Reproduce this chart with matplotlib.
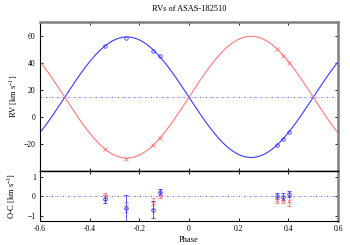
import numpy as np
import matplotlib
matplotlib.use("Agg")
import matplotlib.pyplot as plt

plt.rcParams['font.family'] = ['Liberation Serif', 'DejaVu Serif']
plt.rcParams['mathtext.fontset'] = 'custom'
plt.rcParams['mathtext.rm'] = 'Liberation Serif'

# Orbit parameters
gamma = 14.5
K1 = 44.5   # blue component
K2 = 45.0   # red component

# Observations
phase = [-0.338, -0.255, -0.143, -0.118, 0.355, 0.380, 0.403]
rv_blue = [52.3, 58.4, 48.6, 44.8, -20.7, -16.0, -10.9]
rv_red = [-23.8, -31.0, -21.0, -15.8, 49.9, 45.1, 39.9]
oc_blue = [-0.15, -0.58, -0.68, 0.22, 0.00, -0.02, 0.10]
oc_blue_err = [0.20, 0.67, 0.46, 0.17, 0.15, 0.17, 0.15]
oc_red = [0.00, -0.55, -0.35, 0.05, -0.17, -0.17, -0.25]
oc_red_err = [0.17, 0.28, 0.28, 0.15, 0.15, 0.20, 0.25]

blue = '#3a3aff'
red = '#ff7878'

fig = plt.figure(figsize=(3.5, 2.45), dpi=100)
ax1 = fig.add_axes([0.114, 0.302, 0.852, 0.608])
ax2 = fig.add_axes([0.114, 0.098, 0.852, 0.204])

ph = np.linspace(-0.6, 0.6, 600)
ax1.plot(ph, gamma - K1 * np.sin(2 * np.pi * ph), color=blue, lw=0.8)
ax1.plot(ph, gamma + K2 * np.sin(2 * np.pi * ph), color=red, lw=0.8)
ax1.axhline(gamma, color='#6060ff', lw=0.6, ls=(0, (2, 2, 0.6, 2)))
ax1.plot(phase, rv_blue, 'o', mfc='none', mec=blue, ms=2.5, mew=0.6)
ax1.plot(phase, rv_red, 'x', color=red, ms=3, mew=0.6)
ax1.set_xlim(-0.6, 0.6)
ax1.set_ylim(-40, 70)
ax1.set_yticks([-20, 0, 20, 40, 60])
ax1.set_xticks([-0.6, -0.4, -0.2, 0, 0.2, 0.4, 0.6])
ax1.tick_params(labelbottom=False)
ax1.set_ylabel('RV [km s$^{-1}$]', fontsize=6, labelpad=3)
ax1.set_title('RVs of ASAS-182510', fontsize=6, pad=8)

ax2.axhline(0, color='#6060ff', lw=0.6, ls=(0, (2, 2, 0.6, 2)))
ax2.errorbar(phase, oc_red, yerr=oc_red_err, fmt='x', color=red, ms=3,
             mew=0.6, elinewidth=0.6, capsize=1.2, capthick=0.6)
ax2.errorbar(phase, oc_blue, yerr=oc_blue_err, fmt='o', color=blue, mfc='none',
             ms=2.5, mew=0.6, elinewidth=0.6, capsize=1.2, capthick=0.6)
ax2.set_xlim(-0.6, 0.6)
ax2.set_ylim(-1.27, 1.3)
ax2.set_yticks([-1, 0, 1])
ax2.set_xticks([-0.6, -0.4, -0.2, 0, 0.2, 0.4, 0.6])
ax2.set_xticklabels(['-0.6', '-0.4', '-0.2', '0', '0.2', '0.4', '0.6'])
ax2.set_ylabel('O-C [km s$^{-1}$]', fontsize=6, labelpad=7)
ax2.set_xlabel('Phase', fontsize=6, labelpad=2)

for ax in (ax1, ax2):
    ax.tick_params(direction='in', top=True, right=True, labelsize=5.5,
                   length=2.5, width=0.6, pad=3)
    for s in ('left', 'bottom'):
        ax.spines[s].set_linewidth(0.8)
    ax.spines['right'].set_color('#808080')
    ax.spines['right'].set_linewidth(1.8)
ax1.spines['top'].set_color('#808080')
ax1.spines['top'].set_linewidth(1.8)
ax1.spines['bottom'].set_linewidth(1.0)
ax2.spines['top'].set_linewidth(1.0)

fig.savefig('out.png', dpi=100)
